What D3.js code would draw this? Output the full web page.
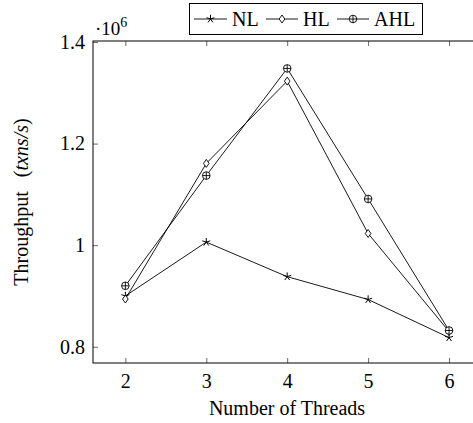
<!DOCTYPE html>
<html>
<head>
<meta charset="utf-8">
<script src="https://cdn.jsdelivr.net/npm/d3@7"></script>
<style>
  body { margin: 0; background: #fff; }
  svg { display: block; }
  text { font-family: "Liberation Serif", "Times New Roman", serif !important; fill: #000; }
  .axis text { font-size: 20px; }
  .axis line { stroke: #444; stroke-width: 0.8; }
  .axis path { display: none; }
</style>
</head>
<body>
<svg id="graph" width="473" height="423"></svg>
<script>
// Data (throughput in millions of txns/s)
var threads = [2, 3, 4, 5, 6];
var nl  = [0.900, 1.006, 0.938, 0.893, 0.818];
var hl  = [0.894, 1.161, 1.323, 1.023, 0.830];
var ahl = [0.920, 1.137, 1.348, 1.091, 0.832];
var seriesNames = ['NL', 'HL', 'AHL'];
var yTicks = [0.8, 1, 1.2, 1.4];

var serif = '"Liberation Serif", "Times New Roman", serif';
var svg = d3.select('#graph');
var xScale = d3.scaleLinear().domain([1.6, 6.4]).range([93, 481.4]);
var yScale = d3.scaleLinear().domain([0.768, 1.402]).range([363, 41]);
var lineGen = d3.line().x(function(d){ return xScale(d.x) }).y(function(d){ return yScale(d.y) });

// markers
function drawMark(g, type){
  if(type == 'NL'){
    for(var i = 0; i < 5; i++){
      var a = -Math.PI/2 + i*2*Math.PI/5;
      g.append('line').attr('x1', 0).attr('y1', 0).attr('x2', 4.2*Math.cos(a)).attr('y2', 4.2*Math.sin(a))
       .style('stroke', '#000').style('stroke-width', 1);
    }
  }
  if(type == 'HL'){
    g.append('path').attr('d', 'M0,-4L2.8,0L0,4L-2.8,0Z').style('fill', '#fff').style('stroke', '#000').style('stroke-width', 0.9);
  }
  if(type == 'AHL'){
    g.append('circle').attr('r', 3.8).style('fill', '#fff').style('stroke', '#000').style('stroke-width', 0.9);
    g.append('path').attr('d', 'M-3.8,0H3.8M0,-3.8V3.8').style('stroke', '#000').style('stroke-width', 0.9);
  }
}

// axes (ticks pointing inside)
svg.append('g').attr('class', 'axis').attr('transform', 'translate(0,363)')
   .call(d3.axisBottom(xScale).tickValues(threads).tickSize(-5).tickPadding(11).tickFormat(d3.format('d')))
   .attr('font-family', serif);
svg.append('g').attr('class', 'axis').attr('transform', 'translate(0,41)')
   .call(d3.axisTop(xScale).tickValues(threads).tickSize(-5).tickFormat(''));
svg.append('g').attr('class', 'axis').attr('transform', 'translate(93,0)')
   .call(d3.axisLeft(yScale).tickValues(yTicks).tickSize(-5).tickPadding(8).tickFormat(function(d){ return d == 1 ? '1' : d3.format('.1f')(d) }))
   .attr('font-family', serif);

// frame
svg.append('rect').attr('x', 93).attr('y', 41).attr('width', 388.4).attr('height', 322)
   .style('fill', 'none').style('stroke', '#000').style('stroke-width', 1);

// series
var allSeries = [nl, hl, ahl];
allSeries.forEach(function(vals, k){
  var pts = threads.map(function(t, i){ return { x: t, y: vals[i] } });
  svg.append('path').attr('d', lineGen(pts)).style('fill', 'none').style('stroke', '#000').style('stroke-width', 0.9);
  pts.forEach(function(p){
    var g = svg.append('g').attr('transform', 'translate(' + xScale(p.x) + ',' + yScale(p.y) + ')');
    drawMark(g, seriesNames[k]);
  });
});

// exponent label
var ex = svg.append('text').attr('x', 95).attr('y', 35).style('font-size', '19px');
ex.append('tspan').text('\u00b710');
ex.append('tspan').attr('dy', -8).style('font-size', '14px').text('6');

// axis titles
svg.append('text').attr('x', 287).attr('y', 415).style('font-size', '20px').style('text-anchor', 'middle').text('Number of Threads');
var yl = svg.append('text').attr('transform', 'translate(28,202) rotate(-90)').style('font-size', '20px').style('text-anchor', 'middle');
yl.append('tspan').text('Throughput');
yl.append('tspan').attr('dx', 14).text('(');
yl.append('tspan').style('font-style', 'italic').text('txns/s');
yl.append('tspan').text(')');

// legend
var leg = svg.append('g');
leg.append('rect').attr('x', 189.5).attr('y', 3.5).attr('width', 233).attr('height', 31)
   .style('fill', '#fff').style('stroke', '#000').style('stroke-width', 1);
var legX = [[194, 227, 232], [266, 298, 303], [337, 369, 374]];
seriesNames.forEach(function(name, k){
  var l = legX[k];
  leg.append('line').attr('x1', l[0]).attr('x2', l[1]).attr('y1', 19).attr('y2', 19).style('stroke', '#000').style('stroke-width', 0.9);
  drawMark(leg.append('g').attr('transform', 'translate(' + ((l[0]+l[1])/2) + ',19)'), name);
  leg.append('text').attr('x', l[2]).attr('y', 26).style('font-size', '20px').text(name);
});
</script>
</body>
</html>
